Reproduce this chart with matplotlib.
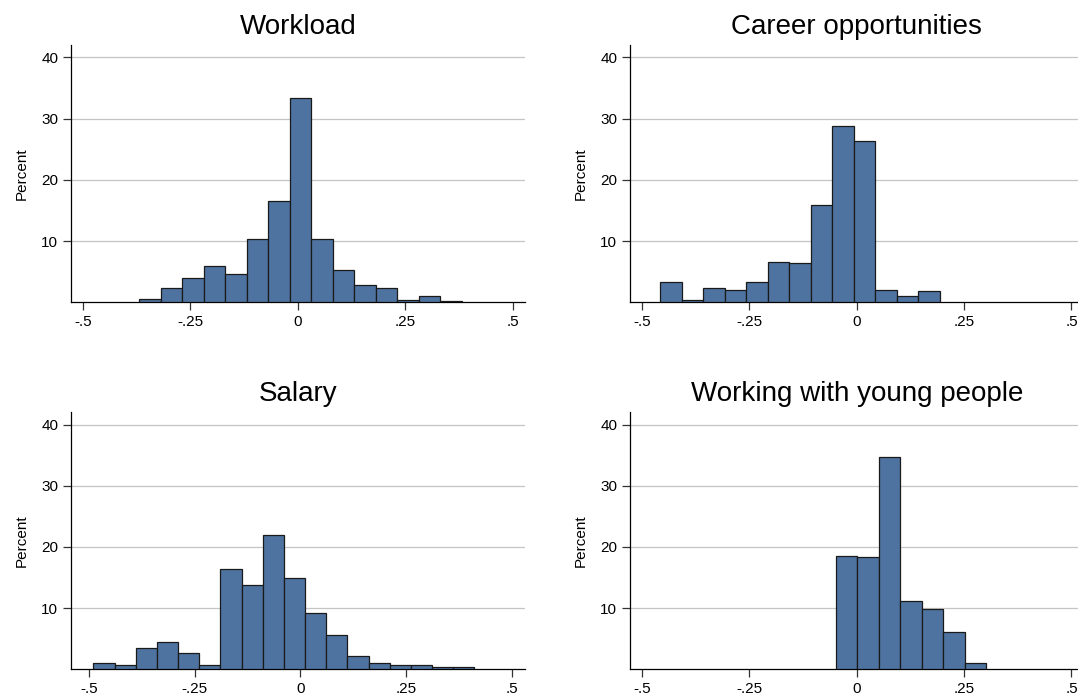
import numpy as np
import matplotlib
matplotlib.use("Agg")
import matplotlib.pyplot as plt

plt.rcParams["font.family"] = ["Liberation Sans", "DejaVu Sans"]

BIN_W = 0.05

# percent of respondents per bin, bins of width .05 starting at *_start
workload_start = -0.3686
workload_pct = [0.5, 2.3, 4.0, 6.0, 4.7, 10.3, 16.5, 33.3, 10.4, 5.3, 2.8, 2.3, 0.3, 1.0, 0.2]

career_start = -0.4573
career_pct = [3.3, 0.3, 2.3, 2.0, 3.3, 6.5, 6.4, 15.9, 28.8, 26.4, 2.0, 1.0, 1.8]

salary_start = -0.489
salary_pct = [1.0, 0.65, 3.5, 4.4, 2.6, 0.65, 16.4, 13.7, 21.9, 15.0, 9.2, 5.6,
              2.1, 1.1, 0.65, 0.7, 0.33, 0.43]

young_start = -0.0489
young_pct = [18.5, 18.4, 34.7, 11.1, 9.9, 6.1, 1.1]

panels = [
    ("Workload", workload_start, workload_pct),
    ("Career opportunities", career_start, career_pct),
    ("Salary", salary_start, salary_pct),
    ("Working with young people", young_start, young_pct),
]

xticks = [-0.5, -0.25, 0, 0.25, 0.5]
xticklabels = ["-.5", "-.25", "0", ".25", ".5"]
yticks = [10, 20, 30, 40]

W, H = 1078, 696
# axes boxes in pixels: left, top, right, bottom, plus x range
boxes = [
    (70.7, 45, 525, 302.3, (-0.528, 0.529)),
    (629.7, 45, 1083.9, 302.3, (-0.529, 0.529)),
    (70.7, 412.3, 525, 669.3, (-0.5425, 0.5307)),
    (629.7, 412.3, 1083.9, 669.3, (-0.529, 0.529)),
]

fig = plt.figure(figsize=(W / 100, H / 100), dpi=100)

for (title, start, pct), (l, t, r, b, xlim) in zip(panels, boxes):
    ax = fig.add_axes([l / W, 1 - b / H, (r - l) / W, (b - t) / H])
    edges = start + BIN_W * np.arange(len(pct))
    ax.bar(edges, pct, width=BIN_W, align="edge", color="#4e73a0",
           edgecolor="#1a1a1a", linewidth=0.9, zorder=3)
    ax.set_xlim(*xlim)
    ax.set_ylim(0, 42)
    ax.set_xticks(xticks)
    ax.set_xticklabels(xticklabels)
    ax.set_yticks(yticks)
    ax.tick_params(axis="both", labelsize=11, length=6, width=0.9,
                   color="#333333", pad=3)
    ax.yaxis.grid(True, color="#c4c4c4", linewidth=0.9, zorder=0)
    ax.set_axisbelow(True)
    for s in ("top", "right"):
        ax.spines[s].set_visible(False)
    for s in ("left", "bottom"):
        ax.spines[s].set_linewidth(0.9)
    ax.set_ylabel("Percent", fontsize=11, labelpad=9)
    ax.set_title(title, fontsize=20, pad=8)

fig.savefig("out.png", dpi=100, facecolor="white")
